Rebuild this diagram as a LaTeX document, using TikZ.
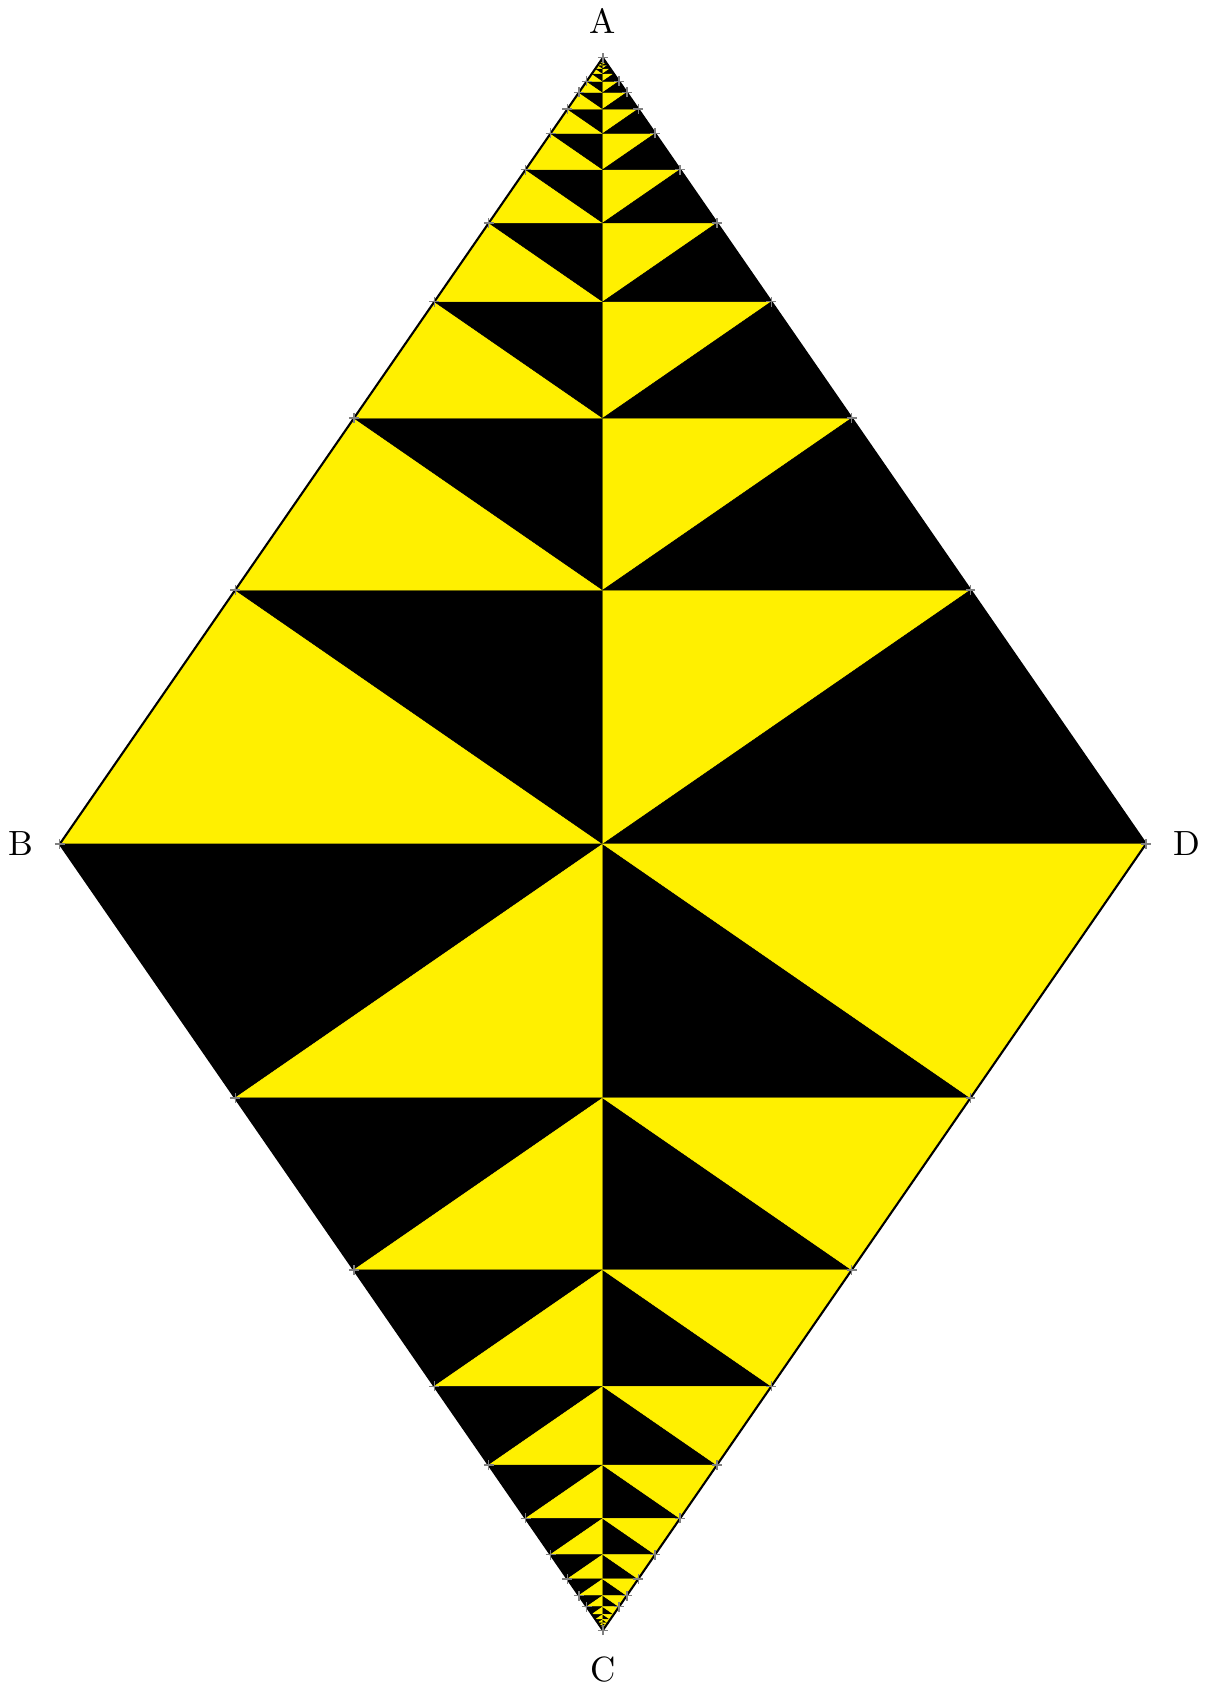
\documentclass[tikz,border=0pt]{standalone}
\usepackage{tikz}
\usetikzlibrary{positioning}

\definecolor{tileyellow}{RGB}{255,240,0}

\begin{document}
\begin{tikzpicture}[
  lightpart/.style={fill=tileyellow, draw=tileyellow, line width=0.15pt},
  darkpart/.style={fill=black, draw=black, line width=0.15pt},
  rim/.style={draw, line width=0.6pt, line join=miter},
  tick/.style={draw=gray, line width=0.4pt},
  vlabel/.style={font=\normalsize, inner sep=0pt}
]
\useasboundingbox (-6.05,-8.47) rectangle (6.08,8.47);

\def\hw{5.45}
\def\hh{7.89}
\pgfmathsetmacro{\ratio}{\hh*\hh/(\hh*\hh+\hw*\hw)}

\coordinate (O) at (0,0);
\coordinate (A) at (0,\hh);
\coordinate (B) at (-\hw,0);
\coordinate (C) at (0,-\hh);
\coordinate (D) at (\hw,0);

% bands, from the middle out to A and C
\foreach \k in {1,...,14} {
  \pgfmathsetmacro{\dold}{\hh*\ratio^(\k-1)}
  \pgfmathsetmacro{\dnew}{\hh*\ratio^\k}
  \pgfmathsetmacro{\xold}{\hw*\dold/\hh}
  \pgfmathsetmacro{\xnew}{\hw*\dnew/\hh}
  \pgfmathsetmacro{\yold}{\hh-\dold}
  \pgfmathsetmacro{\ynew}{\hh-\dnew}
  % upper half
  \filldraw[lightpart] (-\xold,\yold) -- (0,\yold) -- (-\xnew,\ynew) -- cycle;
  \filldraw[darkpart]  (-\xnew,\ynew) -- (0,\ynew) -- (0,\yold) -- cycle;
  \filldraw[lightpart] (0,\yold) -- (0,\ynew) -- (\xnew,\ynew) -- cycle;
  \filldraw[darkpart]  (0,\yold) -- (\xold,\yold) -- (\xnew,\ynew) -- cycle;
  % lower half
  \filldraw[darkpart]  (-\xold,-\yold) -- (0,-\yold) -- (-\xnew,-\ynew) -- cycle;
  \filldraw[lightpart] (-\xnew,-\ynew) -- (0,-\ynew) -- (0,-\yold) -- cycle;
  \filldraw[darkpart]  (0,-\yold) -- (0,-\ynew) -- (\xnew,-\ynew) -- cycle;
  \filldraw[lightpart] (0,-\yold) -- (\xold,-\yold) -- (\xnew,-\ynew) -- cycle;
}

\draw[rim] (A) -- (B) -- (C) -- (D) -- cycle;

% marks on the sides
\foreach \p in {A,B,C,D}
  \draw[tick] (\p) +(-0.05,0) -- +(0.05,0) +(0,-0.05) -- +(0,0.05);
\foreach \k in {1,...,9} {
  \pgfmathsetmacro{\dnew}{\hh*\ratio^\k}
  \pgfmathsetmacro{\xnew}{\hw*\dnew/\hh}
  \pgfmathsetmacro{\ynew}{\hh-\dnew}
  \foreach \sx/\sy in {-1/1,1/1,-1/-1,1/-1}
    \draw[tick] (\sx*\xnew,\sy*\ynew) +(-0.05,0) -- +(0.05,0) +(0,-0.05) -- +(0,0.05);
}

\node[vlabel] (labA) at (0,8.26) {A};
\node[vlabel] (labB) at (-5.84,0) {B};
\node[vlabel] (labC) at (0,-8.28) {C};
\node[vlabel] (labD) at (5.86,0) {D};

\end{tikzpicture}
\end{document}
